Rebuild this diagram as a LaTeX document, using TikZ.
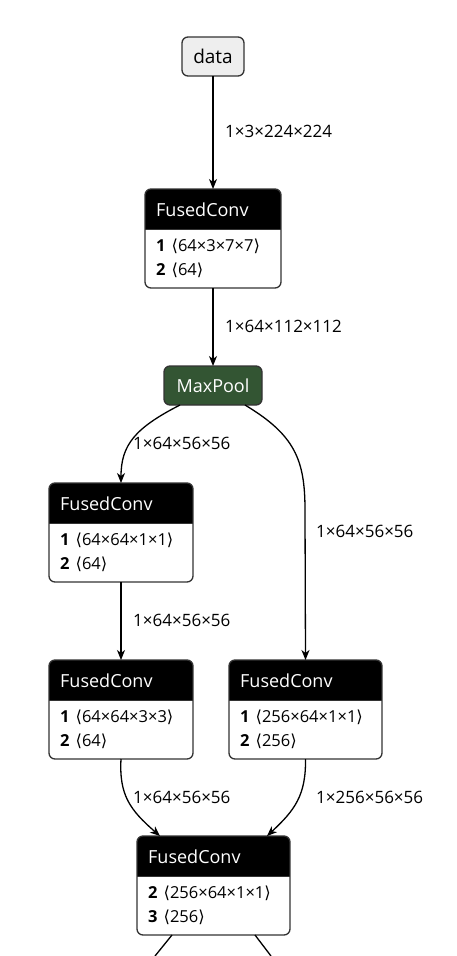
\documentclass[tikz,border=0pt]{standalone}
\usepackage{fontspec}
\setmainfont{Open Sans}
\newfontfamily\djv{DejaVu Sans}
\usetikzlibrary{arrows.meta,calc}
\definecolor{bord}{HTML}{333333}
\definecolor{datafill}{HTML}{EEEEEE}
\definecolor{poolfill}{HTML}{335533}
\tikzset{
  x=1pt, y=-1pt,
  anchorbox/.style={inner sep=0pt, outer sep=0pt, draw=none},
  title/.style={inner sep=0pt, text=white, font=\fontsize{18}{22}\selectfont},
  attr/.style={inner sep=0pt, text=black, font=\fontsize{16.5}{19}\selectfont},
  elabel/.style={inner sep=0pt, anchor=west, text=black, font=\fontsize{17}{20}\selectfont},
  edge/.style={draw=black, line width=1.3pt, -{Stealth[length=10pt,width=8pt,inset=3pt]}},
  plainedge/.style={draw=black, line width=1.3pt},
  opbox/.style={draw=bord, line width=1.3pt, rounded corners=6pt, inner sep=0pt, outer sep=0pt, font=\fontsize{19}{23}\selectfont},
}
\newcommand\lbr{{\djv\char"27E8}}
\newcommand\rbr{{\djv\char"27E9}}
\newcommand\fusedbox[7]{%
  \node[anchorbox, minimum width=#4pt, minimum height=99pt, anchor=north west] (#1) at (#2,#3) {};
  \begin{scope}
    \clip[rounded corners=6pt] (#1.north west) rectangle (#1.south east);
    \fill[black] (#1.north west) rectangle ($(#1.north east)+(0,40)$);
  \end{scope}
  \draw[bord, line width=1.3pt, rounded corners=6pt] (#1.north west) rectangle (#1.south east);
  \draw[bord, line width=0.8pt] ($(#1.north west)+(0,40)$) -- ($(#1.north east)+(0,40)$);
  \node[title, anchor=west] (#1t) at ($(#1.north west)+(11,21)$) {FusedConv};
  \node[attr, anchor=west] (#1a) at ($(#1.north west)+(11,57)$) {\textbf{#5}\hspace{6pt}\lbr#6\rbr};
  \node[attr, anchor=west] (#1b) at ($(#1.north west)+(11,81)$) {\textbf{#7}\hspace{6pt}\lbr\secondline\rbr};
}
\begin{document}
\begin{tikzpicture}
\useasboundingbox[fill=white] (0,0) rectangle (456,956);

% data
\node[opbox, fill=datafill, minimum width=62pt, minimum height=39pt] (data) at (213,56.5) {data};

% FusedConv 1
\def\secondline{64}
\fusedbox{fc1}{145}{189}{136}{1}{64×3×7×7}{2}

% MaxPool
\node[opbox, fill=poolfill, text=white, minimum width=98pt, minimum height=39pt, font=\fontsize{18}{22}\selectfont] (pool) at (213,385.5) {MaxPool};

% FusedConv 2
\def\secondline{64}
\fusedbox{fc2}{49}{483}{144}{1}{64×64×1×1}{2}

% FusedConv 4 (left bottom)
\def\secondline{64}
\fusedbox{fc4}{49}{660}{144}{1}{64×64×3×3}{2}

% FusedConv 3 (right)
\def\secondline{256}
\fusedbox{fc3}{229}{660}{153}{1}{256×64×1×1}{2}

% FusedConv 5
\def\secondline{256}
\fusedbox{fc5}{137}{836}{153}{2}{256×64×1×1}{3}

% edges
\draw[edge] (data.south) -- (fc1.north);
\node[elabel] (l1) at (225,131) {1×3×224×224};

\draw[edge] (fc1.south) -- (pool.north);
\node[elabel] (l2) at (225,326) {1×64×112×112};

\coordinate (p1) at ($(pool.south west)+(16,0)$);
\coordinate (p2) at ($(pool.south east)+(-17,0)$);
\draw[edge] (p1) .. controls (135,428) and (121,445) .. (fc2.north);
\node[elabel] (l3) at (133,443) {1×64×56×56};

\draw[edge] (p2) .. controls (295,435) and (305,460) .. (305,510) -- (fc3.north);
\node[elabel] (l4) at (316,531) {1×64×56×56};

\draw[edge] (fc2.south) -- (fc4.north);
\node[elabel] (l5) at (133,620) {1×64×56×56};

\coordinate (i1) at ($(fc5.north west)+(23,0)$);
\coordinate (i2) at ($(fc5.north east)+(-23,0)$);
\draw[edge] (fc4.south) .. controls (119,795) and (130,810) .. (i1);
\node[elabel] (l6) at (133,797) {1×64×56×56};

\draw[edge] (fc3.south) .. controls (306,795) and (295,810) .. (i2);
\node[elabel] (l7) at (316,797) {1×256×56×56};

% outgoing
\coordinate (o1) at ($(fc5.south west)+(35,0)$);
\coordinate (o2) at ($(fc5.south east)+(-35,0)$);
\coordinate (e1) at (155,956);
\coordinate (e2) at (271,956);
\draw[plainedge] (o1) -- (e1);
\draw[plainedge] (o2) -- (e2);
\end{tikzpicture}
\end{document}
